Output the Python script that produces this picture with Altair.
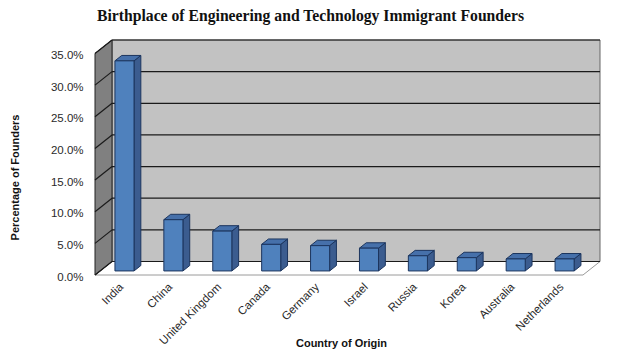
import altair as alt
import pandas as pd

countries = ["India", "China", "United Kingdom", "Canada", "Germany",
             "Israel", "Russia", "Korea", "Australia", "Netherlands"]
shares = [33.2, 8.1, 6.3, 4.2, 4.0, 3.6, 2.4, 2.1, 1.9, 1.9]
y_ticks = [0, 5, 10, 15, 20, 25, 30, 35]
title_text = "Birthplace of Engineering and Technology Immigrant Founders"
x_title = "Country of Origin"
y_title = "Percentage of Founders"

# pseudo-3D style constants (in data units)
DX = 0.348    # depth shift along x
DY = 2.133    # depth shift along y
X0 = -0.603   # front-left edge of the floor
X1 = 9.376    # front-right edge of the floor
YTOP = 35
HW = 0.195    # half bar width
DF = 0.3      # depth where bars start
BD = 0.4      # bar depth

xs = alt.Scale(domain=[X0, X1 + DX], nice=False, zero=False)
ys = alt.Scale(domain=[0, YTOP + DY], nice=False, zero=False)


def X(f, **kw):
    return alt.X(f, scale=xs, **kw) if "axis" in kw else alt.X(f, scale=xs, axis=None)


def Y(f, **kw):
    return alt.Y(f, scale=ys, **kw) if "axis" in kw else alt.Y(f, scale=ys, axis=None)


# walls and floor
left_wall = pd.DataFrame({"x": [X0, X0 + DX], "y": [0, DY], "y2": [YTOP, YTOP + DY]})
back_wall = pd.DataFrame({"x": [X0 + DX], "x2": [X1 + DX], "y": [DY], "y2": [YTOP + DY]})
floor = pd.DataFrame({"y": [0, DY], "x": [X0, X0 + DX], "x2": [X1, X1 + DX]})
back_grid = pd.DataFrame({"x": [X0 + DX] * len(y_ticks), "x2": [X1 + DX] * len(y_ticks),
                          "y": [v + DY for v in y_ticks]})
side_grid = pd.DataFrame({"x": [X0] * len(y_ticks), "x2": [X0 + DX] * len(y_ticks),
                          "y": y_ticks, "y2": [v + DY for v in y_ticks]})

# bars
front = pd.DataFrame({"c": countries, "x": [i - HW for i in range(len(countries))],
                      "x2": [i + HW for i in range(len(countries))],
                      "y": [DF * DY] * len(countries),
                      "y2": [v + DF * DY for v in shares], "i": list(range(len(countries)))})
side_rows, top_rows = [], []
for i, (c, v) in enumerate(zip(countries, shares)):
    for k in (0, 1):
        side_rows.append({"c": c, "x": i + HW + k * BD * DX, "y": (DF + k * BD) * DY,
                          "y2": v + (DF + k * BD) * DY})
        top_rows.append({"c": c, "y": v + (DF + k * BD) * DY, "x": i - HW + k * BD * DX,
                         "x2": i + HW + k * BD * DX})
side = pd.DataFrame(side_rows)
top = pd.DataFrame(top_rows)

lw = alt.Chart(left_wall).mark_area(orient="vertical", color="#808080", stroke="#222",
                                    strokeWidth=1).encode(X("x:Q"), Y("y:Q"), alt.Y2("y2:Q"))
bw = alt.Chart(back_wall).mark_rect(color="#c2c2c2", stroke="#666", strokeWidth=1).encode(
    X("x:Q"), alt.X2("x2:Q"), Y("y:Q"), alt.Y2("y2:Q"))
fl = alt.Chart(floor).mark_area(orient="horizontal", color="#ffffff", stroke="#9a9a9a",
                                strokeWidth=1).encode(Y("y:Q"), X("x:Q"), alt.X2("x2:Q"))
bg = alt.Chart(back_grid).mark_rule(color="#1a1a1a", strokeWidth=1.2).encode(
    X("x:Q"), alt.X2("x2:Q"), Y("y:Q"))
sg = alt.Chart(side_grid).mark_rule(color="#1a1a1a", strokeWidth=1.2).encode(
    X("x:Q"), alt.X2("x2:Q"), Y("y:Q"), alt.Y2("y2:Q"))
sd = alt.Chart(side).mark_area(orient="vertical", color="#3b5c8f", stroke="#1c355e",
                               strokeWidth=1).encode(X("x:Q"), Y("y:Q"), alt.Y2("y2:Q"),
                                                     detail="c:N")
tp = alt.Chart(top).mark_area(orient="horizontal", color="#4670aa", stroke="#1c355e",
                              strokeWidth=1).encode(Y("y:Q"), X("x:Q"), alt.X2("x2:Q"),
                                                    detail="c:N")

label_expr = "[" + ",".join("'" + c + "'" for c in countries) + "][datum.value]"
fr = alt.Chart(front).mark_rect(color="#4f81bd", stroke="#1c355e", strokeWidth=1).encode(
    X("x:Q", axis=alt.Axis(values=list(range(len(countries))), labelExpr=label_expr,
                           labelAngle=-45, labelAlign="right", labelBaseline="middle",
                           labelPadding=10, labelOffset=-3, ticks=False, domain=False,
                           grid=False, labelFont="Liberation Sans", labelFontSize=11.5,
                           labelColor="#2a2a2a", title=x_title, titleFont="Liberation Sans",
                           titleFontSize=11, titleFontWeight="bold", titleColor="#111",
                           titleX=246, titleY=62, titleAlign="center",
                           labelOverlap=False, labelBound=False)),
    alt.X2("x2:Q"),
    Y("y:Q", axis=alt.Axis(values=y_ticks, labelExpr="format(datum.value, '.1f') + '%'",
                           ticks=False, domain=False, grid=False, labelPadding=12,
                           labelOffset=2, labelFont="Liberation Sans", labelFontSize=11.5,
                           labelColor="#2a2a2a", title=y_title, titleFont="Liberation Sans",
                           titleFontSize=11, titleFontWeight="bold", titleColor="#111",
                           titleX=-80, titleY=137, titleAngle=-90, titleAlign="center",
                           titleBaseline="middle")),
    alt.Y2("y2:Q"))

chart = alt.layer(bw, fl, lw, bg, sg, sd, tp, fr).resolve_axis(
    x="independent", y="independent"
).properties(
    width=505, height=235,
    autosize=alt.AutoSizeParams(type="none"),
    padding={"left": 87, "top": 32, "right": 32, "bottom": 75},
    title=alt.Title(title_text, anchor="start", frame="group", font="Liberation Serif",
                    fontSize=15.7, fontWeight="bold", color="#111", dx=2, offset=13),
).configure_view(stroke=None)

chart.save("out.html", embed_options={"renderer": "svg", "actions": False})
